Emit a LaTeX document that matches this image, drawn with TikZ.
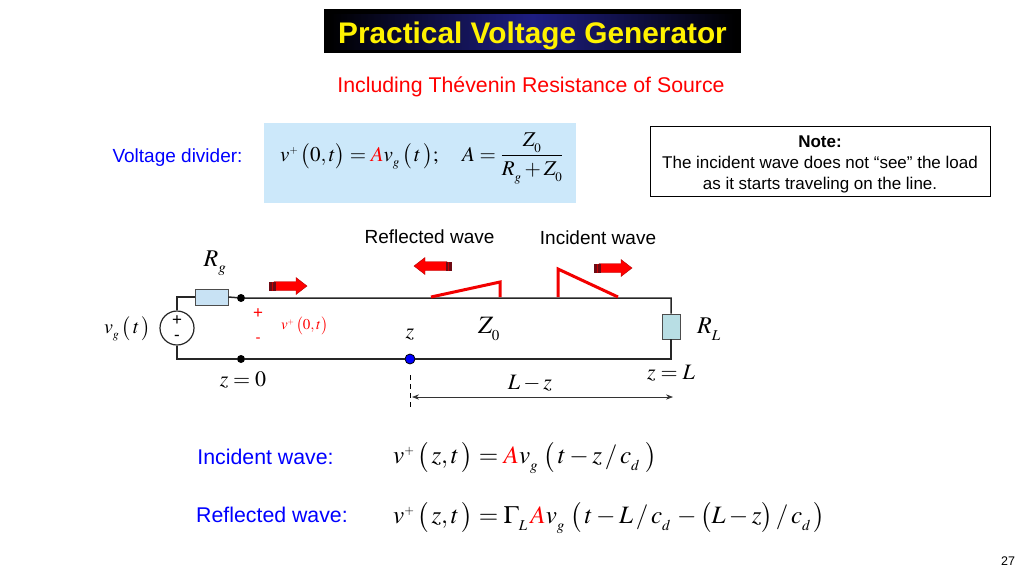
\documentclass[tikz,border=0pt]{standalone}
\usepackage{amsmath}
\usepackage{mathptmx}
\usepackage[no-math]{fontspec}
\setmainfont{Liberation Sans}
\usepackage{tikz}
\usetikzlibrary{arrows.meta}
\definecolor{boxblue}{RGB}{204,232,250}
\definecolor{rgfill}{RGB}{200,226,244}
\definecolor{rlfill}{RGB}{184,222,228}
\definecolor{stripe}{RGB}{110,10,20}
\definecolor{navy}{RGB}{30,30,130}
\DeclareMathSizes{15}{15}{9}{8}
\DeclareMathSizes{20}{20}{12}{9}
\DeclareMathSizes{21}{21}{13}{10.5}
\DeclareMathSizes{22}{22}{14}{10}
\DeclareMathSizes{24}{24}{15}{10}
\DeclareMathSizes{25}{25}{15}{12.5}
\newcommand{\fs}[1]{\fontsize{#1}{#1}\selectfont}
\newcommand{\Ared}{\textcolor{red}{A}}
\newcommand{\lo}[1]{_{\raisebox{-0.12em}{$\scriptstyle #1$}}}
\begin{document}
\begin{tikzpicture}[x=1pt, y=-1pt,
	wire/.style = {line width=1.5pt, black!85},
	res/.style = {draw=black!70, line width=0.8pt, minimum width=33pt, minimum height=16pt, inner sep=0pt, fill=rgfill},
	dot/.style = {draw=none, circle, fill=black, minimum size=8pt, inner sep=0pt},
	txt/.style = {inner sep=0pt, font=\fs{21.3}},
	lbl/.style = {inner sep=0pt, font=\fs{19}},
	wave/.style = {line width=3pt, red!95!black, line join=miter},
	eqn/.style = {inner sep=0pt, anchor=west, font=\fs{25}},
	cct/.style = {inner sep=0pt, font=\fs{22}}]
	\useasboundingbox (0,0) rectangle (1024,576);
	% title and subtitle
	\node[fill=black, minimum width=417pt, minimum height=44pt, inner sep=0pt] (title) at (532.5,31) {};
	\fill[left color=black, right color=black, middle color=navy] (330,14) rectangle (735,49);
	\node[inner sep=0pt, text=yellow, font=\fs{29.8}\bfseries] (titletext) at (532.5,35.5) {Practical Voltage Generator};
	\node[txt, text=red] (sub) at (531,87) {Including Thévenin Resistance of Source};
	% voltage divider
	\node[lbl, text=blue] (divlabel) at (177.5,158) {Voltage divider:};
	\node[fill=boxblue, minimum width=312pt, minimum height=80pt, inner sep=0pt] (divbox) at (420,163) {};
	\node[eqn, font=\fs{21}] (diveq) at (280,158.5) {$v^{\scriptscriptstyle +}\,\bigl(0,t\bigr)=\Ared v\lo{g}\,\bigl(\,t\,\bigr);\quad A=\dfrac{Z\lo{0}}{R\lo{g}+Z\lo{0}}$};
	% note
	\node[draw, fill=white, line width=0.7pt, minimum width=340pt, minimum height=70pt, align=center, inner sep=0pt, font=\fs{17}] (note) at (820,161)
		{\rule{0pt}{18.5pt}\textbf{Note:}\\[4pt]The incident wave does not “see” the load\\[4pt]as it starts traveling on the line.};
	% line
	\coordinate (tl) at (177,298);
	\coordinate (bl) at (177,359);
	\coordinate (tr) at (671,298);
	\coordinate (br) at (671,359);
	\node[dot] (top0) at (241,298) {};
	\node[dot] (bot0) at (241,359) {};
	\node[dot, fill=blue, draw=black, line width=0.8pt, minimum size=10pt] (zdot) at (410,359) {};
	\node[res] (rg) at (211.5,297) {};
	\node[res, fill=rlfill, minimum width=18pt, minimum height=25pt] (rl) at (671,326.5) {};
	\node[draw, wire, line width=1.2pt, circle, fill=white, minimum size=34pt, inner sep=0pt, align=center, text=black, font=\fs{17}] (src) at (177,328) {+\\[-2pt]-};
	\draw[wire] (src.north) |- (rg.west);
	\draw[wire] (rg.east) -- (top0) -- (tr) -- (rl.north);
	\draw[wire] (src.south) |- (bot0) -- (zdot) -- (br) -- (rl.south);
	% wave shapes
	\coordinate (r1) at (431,297);
	\coordinate (r2) at (500,282);
	\coordinate (r3) at (500,297);
	\coordinate (i1) at (558,297);
	\coordinate (i2) at (558,269);
	\coordinate (i3) at (618,297);
	\draw[wave] (r1) -- (r2) -- (r3);
	\draw[wave] (i1) -- (i2) -- (i3);
	% block arrows
	\foreach \name/\xx/\yy/\dir in {launch/269/286/1, incid/594/268/1, refl/452/266/-1} {
		\begin{scope}[shift={(\xx,\yy)}, xscale=\dir]
			\fill[red, draw=red!70!black, line width=0.4pt] (5,-4.5) -- (27,-4.5) -- (27,-8.5) -- (38,0) -- (27,8.5) -- (27,4.5) -- (5,4.5) -- cycle;
			\fill[stripe] (0,-4.5) rectangle (6.5,4.5);
			\fill[red!80!black] (2.6,-4.5) rectangle (3.6,4.5);
		\end{scope}
	}
	% labels
	\node[lbl] (reflabel) at (429.5,237) {Reflected wave};
	\node[lbl] (inclabel) at (598,238) {Incident wave};
	\node[cct, font=\fs{24}] (rglabel) at (215,263) {$R\lo{g}$};
	\node[cct, font=\fs{24}] (rllabel) at (709,329) {$R\lo{L}$};
	\node[cct, font=\fs{25}] (z0label) at (489,329) {$Z\lo{0}$};
	\node[cct, font=\fs{20}] (vglabel) at (127.5,329) {$v\lo{g}\,\bigl(\,t\,\bigr)$};
	\node[cct, text=red, font=\fs{15}] (vplabel) at (304.5,326) {$v^{\scriptscriptstyle +}\,\bigl(0,t\bigr)$};
	\node[inner sep=0pt, text=red, font=\fs{17}] (pluslabel) at (258,314) {+};
	\node[inner sep=0pt, text=red, font=\fs{15}] (minuslabel) at (258,340) {-};
	\node[cct] (zlabel) at (410,335) {$z$};
	\node[cct] (z0) at (243,380) {$z=0$};
	\node[cct] (zl) at (671,373) {$z=L$};
	\node[cct] (lz) at (530,383) {$L-z$};
	% dimension
	\coordinate (dim0) at (410,375);
	\coordinate (dim1) at (410,410);
	\coordinate (la) at (412,397);
	\coordinate (lb) at (673,397);
	\draw[dash pattern=on 5pt off 4pt, line width=0.8pt] (dim0) -- (dim1);
	\draw[{Stealth[length=7pt]}-{Stealth[length=7pt]}, line width=0.7pt, black!80] (la) -- (lb);
	% equations
	\node[txt, text=blue] (inctxt) at (265.5,457) {Incident wave:};
	\node[txt, text=blue] (reftxt) at (272,515) {Reflected wave:};
	\node[eqn] (inceq) at (393,458) {$v^{\scriptscriptstyle +}\,\bigl(\,z,t\,\bigr)=\Ared v\lo{g}\;\bigl(\,t-z\,/\,c\lo{d}\,\,\bigr)$};
	\node[eqn] (refeq) at (393,518) {$v^{\scriptscriptstyle +}\,\bigl(\,z,t\,\bigr)=\Gamma\lo{L}\,\Ared v\lo{g}\;\bigl(\,t-L\,/\,c\lo{d}\,-\bigl(L-z\bigr)\,/\,c\lo{d}\,\bigr)$};
	\node[inner sep=0pt, font=\fs{12.5}] (page) at (1008,561) {27};
\end{tikzpicture}
\end{document}
